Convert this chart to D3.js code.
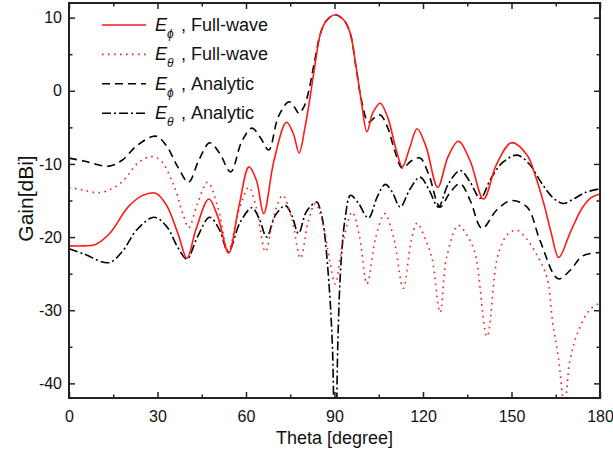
<!DOCTYPE html>
<html>
<head>
<meta charset="utf-8">
<script src="https://cdn.jsdelivr.net/npm/d3@7"></script>
<style>
    body { margin: 0; background: #fff; }
    svg { font-family: Arial, "Liberation Sans", sans-serif; }
</style>
</head>
<body>
<div id="chart"></div>
<script>
// theta [deg], gain [dBi]
var ephiFullWave = [
    [0, -21.2], [5, -21.2], [9, -21.0], [14, -19.4], [20, -15.9], [25, -14.3], [29.4, -14], [33, -15.6],
    [37, -19.6], [40, -22.9], [43, -19], [47.4, -14.8], [50.5, -17.3], [54.1, -22.2], [57.5, -16],
    [61, -10.4], [63.5, -12.2], [66, -16.8], [69.5, -9.5], [73.7, -4.3], [76, -5.8], [78, -8.5],
    [80, -5], [81.6, -1.2], [83.3, 3.3], [85.3, 7.9], [87.3, 9.6], [90.3, 10.4], [93.3, 9.6], [95.3, 7.9],
    [97.3, 3.3], [99, -1.2], [101, -5.6], [103, -3], [105.5, -1.7], [108, -3.6], [111, -8.2], [113, -10.4],
    [115.5, -7.8], [118, -5.2], [121, -7.6], [125, -13.2], [128.5, -9], [132, -6.9], [136, -9.6],
    [140.5, -14.8], [145, -10], [150, -7.1], [155.3, -8.8], [158, -11.5], [161, -15.5], [163.5, -19.5],
    [166, -22.8], [170, -19.3], [174, -16], [177, -14.6], [180, -14.1]
];

var ethetaFullWave = [
    [0, -13.2], [5, -13.6], [10.8, -13.9], [17.6, -12.6], [23.3, -9.9], [27.7, -9], [31, -9.5],
    [35.5, -12.9], [38.5, -16.7], [40.6, -18.7], [43.5, -15.5], [47, -12.5], [50.5, -16], [54, -21.8],
    [57.5, -16.5], [61, -13.2], [63.5, -16], [66.6, -22], [69.5, -17], [72.4, -14.3], [75.5, -17.5],
    [78.5, -22.9], [81, -18], [83.5, -15.4], [86, -18], [88.5, -23.5], [90.3, -26.4], [92.5, -21.5],
    [96, -16.6], [98.5, -20], [101, -26.4], [104, -20], [107, -16.8], [110, -20], [113.3, -27],
    [116, -20.5], [118, -18.1], [121, -20.5], [123, -22.8], [125.8, -30.3], [128, -22.8], [132, -18.4],
    [135, -19.8], [137.7, -22.3], [141.7, -33.6], [145.5, -22.3], [149, -19.5], [152, -19.1],
    [155, -20.2], [158, -22], [162, -25.5], [164, -31.8], [165.9, -36.5], [168, -43], [169.8, -36.9],
    [172.5, -33], [176.6, -29.9], [180, -29]
];

var ephiAnalytic = [
    [0, -9.2], [5, -9.6], [13.5, -10.3], [18, -9.5], [23, -7.5], [29.4, -6.2], [33, -7.5], [37, -10.5],
    [40.5, -12.5], [44, -9.5], [47.7, -7.1], [51, -8.5], [54.8, -11.1], [58.5, -7], [62, -5.1],
    [65, -6.5], [67.7, -8.1], [71, -3.5], [74.6, -1.5], [76.5, -2.3], [78, -3.1], [79.5, -2.3],
    [81, -0.5], [83, 3.5], [85.3, 7.9], [87.3, 9.6], [90.3, 10.4], [93.3, 9.6], [95.3, 7.9], [97.3, 3.2],
    [99.1, -1.2], [101.5, -4.3], [103.5, -3.7], [105.5, -3.3], [108, -5], [110.5, -8.3], [113, -10.6],
    [116, -9.6], [119, -9.2], [122, -11.5], [125.8, -15.9], [129, -14], [132.6, -12.7], [136, -15],
    [140, -18.8], [145, -16.3], [150, -15], [155.3, -15.9], [159.7, -20.5], [165.8, -25.7],
    [170, -24.5], [174, -22.6], [180, -22.1]
];

var ethetaAnalytic = [
    [0, -21.6], [5, -22.3], [13.5, -23.5], [18, -22], [23, -19], [28.8, -17.3], [33, -18.5],
    [37, -21.5], [40, -23], [43.5, -20], [47.7, -17.3], [51, -19], [54, -22], [58, -18], [62, -16],
    [64.5, -17.5], [67, -20], [70, -17], [73.4, -15.7], [75.5, -17], [77.8, -19.5], [80.5, -16.5],
    [84, -15.2], [85.2, -16.3], [86.3, -18.5], [87.6, -23.6], [89.3, -35], [90.2, -60], [91.1, -35],
    [92.2, -23.6], [93.6, -17.5], [95.4, -14.3], [98, -15.3], [101.5, -17.4], [104.5, -14.5],
    [107.2, -12.8], [109.5, -13.8], [112.3, -15.9], [115.5, -13.5], [119, -11.8], [122, -13.5],
    [125.2, -15.9], [128.5, -12.8], [132.6, -10.9], [136, -12.5], [139.4, -14.7], [143, -12],
    [147, -9.8], [151.9, -8.8], [156, -10], [160, -12.5], [164, -14.6], [167.5, -15.4], [171, -14.8],
    [175, -13.9], [180, -13.4]
];

var xTicks = [0, 30, 60, 90, 120, 150, 180];
var yTicks = [-40, -30, -20, -10, 0, 10];
var legendNames = [
    {sub: '\u03D5', label: 'Full-wave'},
    {sub: '\u03B8', label: 'Full-wave'},
    {sub: '\u03D5', label: 'Analytic'},
    {sub: '\u03B8', label: 'Analytic'}
];

function drawChart() {
    var width = 613, height = 457;
    var margin = {top: 3, right: 13, bottom: 59, left: 69};
    var plotW = width - margin.left - margin.right;
    var plotH = height - margin.top - margin.bottom;

    var svg = d3.select('#chart').append('svg')
        .attr('width', width)
        .attr('height', height);

    var x = d3.scaleLinear().domain([0, 180]).range([0, plotW]);
    var y = d3.scaleLinear().domain([-42, 12]).range([plotH, 0]);

    svg.append('defs').append('clipPath').attr('id', 'plot-clip')
        .append('rect').attr('width', plotW).attr('height', plotH);

    var g = svg.append('g')
        .attr('transform', 'translate(' + margin.left + ',' + margin.top + ')');

    var line = d3.line()
        .x(function(d) { return x(d[0]); })
        .y(function(d) { return y(d[1]); })
        .curve(d3.curveCatmullRom.alpha(0.5));

    var series = [
        {data: ephiAnalytic, color: '#000', dash: '8,5'},
        {data: ethetaAnalytic, color: '#000', dash: '9,3,2,3'},
        {data: ethetaFullWave, color: '#ff1a1a', dash: '1.6,4.4'},
        {data: ephiFullWave, color: '#ff1a1a', dash: null}
    ];

    var plot = g.append('g').attr('clip-path', 'url(#plot-clip)');
    series.forEach(function(s) {
        plot.append('path')
            .datum(s.data)
            .attr('d', line)
            .attr('fill', 'none')
            .attr('stroke', s.color)
            .attr('stroke-width', 1.6)
            .attr('stroke-dasharray', s.dash);
    });

    // box axes with inward ticks on all four sides
    var minorX = d3.range(15, 180, 30);
    var minorY = d3.range(-35, 12, 10);
    var plain = function(d) { return String(d); };

    function styleAxis(sel) {
        sel.select('.domain').remove();
        sel.selectAll('.tick line').attr('stroke', '#222').attr('stroke-width', 1.5);
        sel.selectAll('.tick text').attr('fill', '#111').attr('font-size', 16)
            .attr('font-family', 'Arial, "Liberation Sans", sans-serif');
    }

    var bottom = g.append('g').attr('transform', 'translate(0,' + plotH + ')')
        .call(d3.axisBottom(x).tickValues(xTicks).tickSize(-6).tickPadding(13).tickFormat(plain));
    styleAxis(bottom);
    g.append('g').attr('transform', 'translate(0,' + plotH + ')')
        .call(d3.axisBottom(x).tickValues(minorX).tickSize(-3.5).tickFormat(''))
        .call(styleAxis);

    var top = g.append('g')
        .call(d3.axisTop(x).tickValues(xTicks).tickSize(-6).tickFormat(''));
    styleAxis(top);
    g.append('g').call(d3.axisTop(x).tickValues(minorX).tickSize(-3.5).tickFormat('')).call(styleAxis);

    var left = g.append('g')
        .call(d3.axisLeft(y).tickValues(yTicks).tickSize(-6).tickPadding(7).tickFormat(plain));
    styleAxis(left);
    g.append('g').call(d3.axisLeft(y).tickValues(minorY).tickSize(-3.5).tickFormat('')).call(styleAxis);

    var right = g.append('g').attr('transform', 'translate(' + plotW + ',0)')
        .call(d3.axisRight(y).tickValues(yTicks).tickSize(-6).tickFormat(''));
    styleAxis(right);
    g.append('g').attr('transform', 'translate(' + plotW + ',0)')
        .call(d3.axisRight(y).tickValues(minorY).tickSize(-3.5).tickFormat('')).call(styleAxis);

    g.append('rect')
        .attr('width', plotW).attr('height', plotH)
        .attr('fill', 'none').attr('stroke', '#222').attr('stroke-width', 2);

    // axis titles
    svg.append('text')
        .attr('x', margin.left + plotW / 2).attr('y', 444)
        .attr('text-anchor', 'middle').attr('font-size', 18).attr('fill', '#111')
        .text('Theta [degree]');
    svg.append('text')
        .attr('transform', 'translate(33,' + (margin.top + plotH / 2 - 2) + ') rotate(-90)')
        .attr('text-anchor', 'middle').attr('font-size', 21).attr('fill', '#111')
        .text('Gain[dBi]');

    // legend
    var legend = g.append('g').attr('transform', 'translate(33,22)');
    legendNames.forEach(function(item, i) {
        var s = series[[3, 2, 0, 1][i]];
        var row = legend.append('g').attr('transform', 'translate(0,' + (i * 29.4) + ')');
        row.append('line')
            .attr('x1', 0).attr('x2', 44).attr('y1', 0).attr('y2', 0)
            .attr('stroke', s.color).attr('stroke-width', 1.6)
            .attr('stroke-dasharray', s.dash);
        var t = row.append('text').attr('x', 53).attr('y', 6).attr('font-size', 18).attr('fill', '#111');
        t.append('tspan').attr('font-style', 'italic').text('E');
        t.append('tspan').attr('font-style', 'italic').attr('font-size', 12).attr('dy', 7).text(item.sub);
        t.append('tspan').attr('x', 79).attr('dy', -7).text(', ' + item.label);
    });
}

drawChart();
</script>
</body>
</html>
